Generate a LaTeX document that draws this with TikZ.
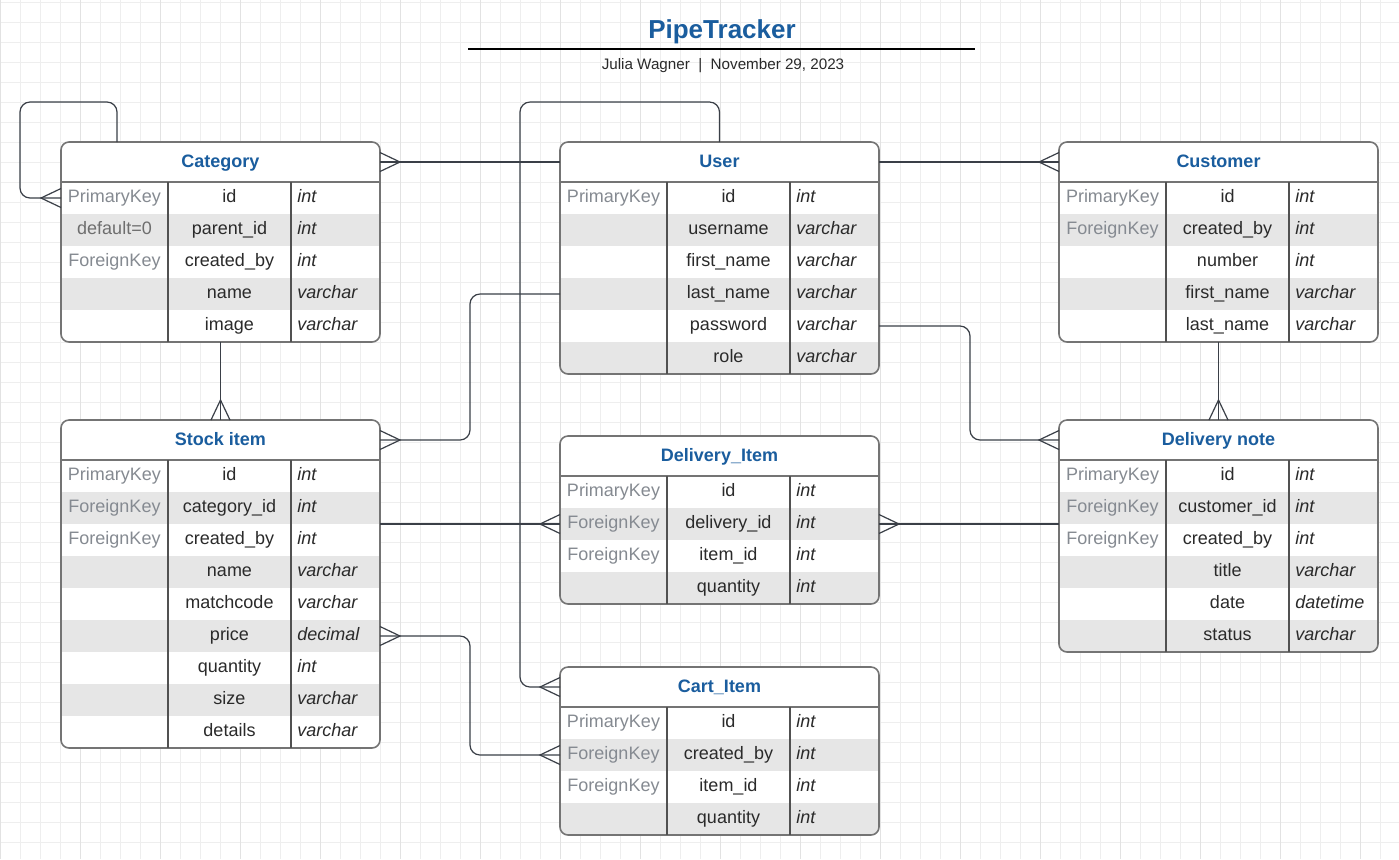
\documentclass[tikz,border=0pt]{standalone}
\usepackage{fontspec}
\setmainfont{Liberation Sans}
\usetikzlibrary{arrows.meta, positioning, calc}

\definecolor{erdblue}{HTML}{1A5D9E}
\definecolor{keygray}{HTML}{858A91}
\definecolor{dfltgray}{HTML}{6E6E6E}
\definecolor{rowgray}{HTML}{E6E6E6}
\definecolor{bordergray}{HTML}{747474}
\definecolor{linkgray}{HTML}{3A3F47}
\definecolor{textdark}{HTML}{2A2A2A}
\definecolor{gridminor}{HTML}{EEEEEE}
\definecolor{gridmajor}{HTML}{E2E2E2}

\pgfdeclarelayer{gridlayer}
\pgfdeclarelayer{back}
\pgfsetlayers{gridlayer,back,main}

% crow's foot (many side)
\pgfdeclarearrow{
  name = Crow,
  parameters = {\the\pgfarrowlength,\the\pgfarrowwidth},
  setup code = {
    \pgfarrowssettipend{0pt}
    \pgfarrowssetlineend{0pt}
    \pgfarrowssetbackend{-\pgfarrowlength}
    \pgfarrowshullpoint{0pt}{.5\pgfarrowwidth}
    \pgfarrowshullpoint{0pt}{-.5\pgfarrowwidth}
    \pgfarrowshullpoint{-\pgfarrowlength}{0pt}
    \pgfarrowssavethe\pgfarrowlength
    \pgfarrowssavethe\pgfarrowwidth
  },
  drawing code = {
    \pgfsetdash{}{0pt}
    \pgfsetcornersarced{\pgfpointorigin}
    \pgfpathmoveto{\pgfqpoint{0pt}{.5\pgfarrowwidth}}
    \pgfpathlineto{\pgfqpoint{-\pgfarrowlength}{0pt}}
    \pgfpathlineto{\pgfqpoint{0pt}{-.5\pgfarrowwidth}}
    \pgfusepathqstroke
  },
  defaults = {length = 10pt, width = 9.5pt}
}

\newcommand{\cellfont}{\fontsize{9}{11}\selectfont}
\newcommand{\dflt}[1]{\textcolor{dfltgray}{#1}}

\tikzset{
  erdhead/.style={minimum width=159.5pt, minimum height=20pt, inner sep=0pt, outer sep=0pt,
    text height=6.6pt, text depth=1.6pt, font=\bfseries\cellfont, text=erdblue},
  celltext/.style={inner sep=0pt, text height=6.6pt, text depth=1.6pt, font=\cellfont},
  keytext/.style={celltext, text=keygray},
  fieldtext/.style={celltext, text=textdark},
  typetext/.style={celltext, anchor=west, font=\itshape\cellfont, text=textdark},
  erdborder/.style={draw=bordergray, line width=0.8pt, rounded corners=4pt},
  erdcol/.style={draw=bordergray!70!black, line width=0.7pt},
  rel/.style={draw=linkgray, line width=0.6pt, rounded corners=5pt},
}

% #1 name, #2 placement, #3 title, #4 rows key/field/type
\newcommand{\erdtable}[4]{%
  \node[erdhead, #2] (#1) {#3};
  \foreach \k/\f/\t [count=\i] in {#4} {\xdef\erdn{\i}}
  \coordinate (#1-s) at ($(#1.south)+(0,{32*\erdn})$);
  \coordinate (#1-se) at ($(#1.south east)+(0,{32*\erdn})$);
  \begin{pgfonlayer}{back}
    \begin{scope}
      \clip[rounded corners=4pt] (#1.north west) rectangle (#1-se);
      \fill[white] (#1.north west) rectangle (#1-se);
      \foreach \k/\f/\t [count=\i] in {#4} {
        \ifodd\i\else
          \fill[rowgray] ($(#1.south west)+(0,{32*(\i-1)})$) rectangle ($(#1.south east)+(0,{32*\i})$);
        \fi
      }
    \end{scope}
  \end{pgfonlayer}
  \draw[erdborder] (#1.north west) rectangle (#1-se);
  \draw[erdborder, rounded corners=0pt] (#1.south west) -- (#1.south east);
  \draw[erdcol] ($(#1.south west)+(107,0)$) -- ($(#1.south west)+(107,{32*\erdn})$);
  \draw[erdcol] ($(#1.south west)+(230,0)$) -- ($(#1.south west)+(230,{32*\erdn})$);
  \foreach \k/\f/\t [count=\i] in {#4} {
    \node[keytext] (#1-k\i) at ($(#1.south west)+(53.5,{32*\i-17})$) {\k};
    \node[fieldtext] (#1-f\i) at ($(#1.south west)+(168.5,{32*\i-17})$) {\f};
    \node[typetext] (#1-t\i) at ($(#1.south west)+(236,{32*\i-17})$) {\t};
    \coordinate (#1-l\i) at ($(#1.south west)+(0,{32*\i-16})$);
    \coordinate (#1-r\i) at ($(#1.south east)+(0,{32*\i-16})$);
  }
}

\begin{document}
\begin{tikzpicture}[x=0.5pt, y=-0.5pt]
  \useasboundingbox (0,0) rectangle (1399,859);

  % paper grid
  \begin{pgfonlayer}{gridlayer}
    \fill[white] (0,0) rectangle (1399,859);
    \foreach \gx in {0,20,...,1380} \draw[gridminor, line width=0.5pt] (\gx,0) -- (\gx,859);
    \foreach \gy in {2,22,...,842} \draw[gridminor, line width=0.5pt] (0,\gy) -- (1399,\gy);
    \foreach \gx in {0,80,...,1360} \draw[gridmajor, line width=0.5pt] (\gx,0) -- (\gx,859);
  \end{pgfonlayer}

  % title block
  \node[font=\bfseries\fontsize{13}{15}\selectfont, text=erdblue] (title) at (722,32) {PipeTracker};
  \draw[black, line width=1pt] (468,49) -- (975,49);
  \node[font=\fontsize{7.6}{9}\selectfont, text=textdark] (byline) at (723,66) {Julia Wagner\ \ |\ \ November 29, 2023};

  % tables
  \erdtable{category}{anchor=north west, at={(61,142)}}{Category}{%
    PrimaryKey/id/int, \dflt{default=0}/parent\_id/int, ForeignKey/created\_by/int,
    /name/varchar, /image/varchar}
  \erdtable{user}{right=90pt of category}{User}{%
    PrimaryKey/id/int, /username/varchar, /first\_name/varchar, /last\_name/varchar,
    /password/varchar, /role/varchar}
  \erdtable{customer}{right=90pt of user}{Customer}{%
    PrimaryKey/id/int, ForeignKey/created\_by/int, /number/int, /first\_name/varchar,
    /last\_name/varchar}
  \erdtable{stock}{below=39pt of category-s}{Stock item}{%
    PrimaryKey/id/int, ForeignKey/category\_id/int, ForeignKey/created\_by/int,
    /name/varchar, /matchcode/varchar, /price/decimal, /quantity/int, /size/varchar,
    /details/varchar}
  \erdtable{note}{below=39pt of customer-s}{Delivery note}{%
    PrimaryKey/id/int, ForeignKey/customer\_id/int, ForeignKey/created\_by/int,
    /title/varchar, /date/datetime, /status/varchar}
  \erdtable{ditem}{below=31pt of user-s}{Delivery\_Item}{%
    PrimaryKey/id/int, ForeignKey/delivery\_id/int, ForeignKey/item\_id/int, /quantity/int}
  \erdtable{cart}{below=31.5pt of ditem-s}{Cart\_Item}{%
    PrimaryKey/id/int, ForeignKey/created\_by/int, ForeignKey/item\_id/int, /quantity/int}

  % relations
  \draw[rel, -Crow] ([xshift=28pt]category.north west) -- ++(0,-40) -| ([xshift=-20.5pt]category-l1) -- (category-l1);
  \draw[rel, -Crow] (user.west) -- (category.east);
  \draw[rel, -Crow] (user.east) -- (customer.west);
  \draw[rel, -Crow] (category-s) -- (stock.north);
  \draw[rel, -Crow] (customer-s) -- (note.north);
  \draw[rel, -Crow] (user.north) -- ++(0,-40) -| ([xshift=-20pt]cart.west) -- (cart.west);
  \draw[rel, -Crow] (user-l4) -- ++(-90,0) |- (stock.east);
  \draw[rel, -Crow] (user-r5) -- ++(91,0) |- (note.west);
  \draw[rel, -Crow] (stock.east |- ditem-l2) -- (ditem-l2);
  \draw[rel, -Crow] (note.west |- ditem-r2) -- (ditem-r2);
  \draw[rel, Crow-Crow] (cart-l2) -- ++(-90,0) |- (stock-r6);
\end{tikzpicture}
\end{document}
